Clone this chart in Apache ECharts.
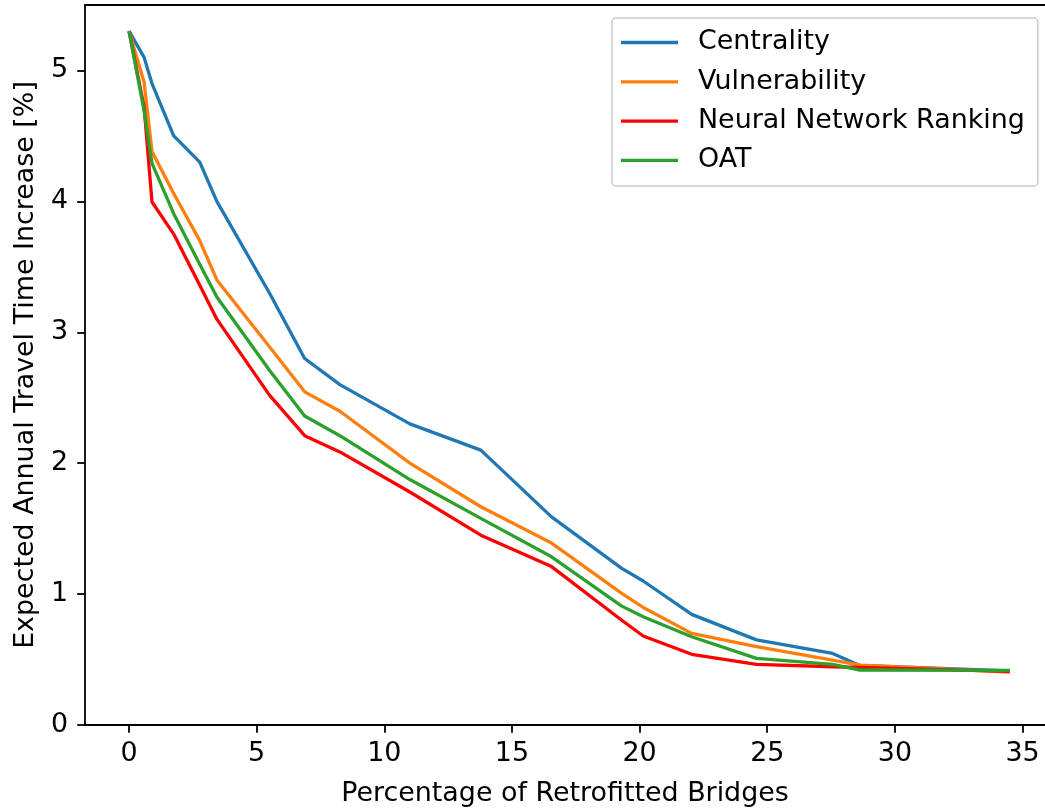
<!DOCTYPE html>
<html>
<head>
<meta charset="utf-8">
<script src="https://cdn.jsdelivr.net/npm/echarts@6/dist/echarts.min.js"></script>
<style>
html,body{margin:0;padding:0;background:#fff;}
#chart{width:1045px;height:810px;}
</style>
</head>
<body>
<div id="chart"></div>
<script>
const xs = [0, 0.59, 0.9, 1.75, 2.77, 3.44, 5.5, 6.88, 8.26, 11.0, 13.78, 16.55, 19.3, 20.14, 22.04, 24.58, 27.56, 28.63, 34.5];
const centrality    = [5.3, 5.10, 4.90, 4.50, 4.30, 4.00, 3.30, 2.80, 2.60, 2.30, 2.10, 1.59, 1.196, 1.10, 0.845, 0.65, 0.547, 0.455, 0.414];
const vulnerability = [5.3, 4.91, 4.38, 4.06, 3.70, 3.40, 2.89, 2.545, 2.397, 2.00, 1.667, 1.39, 1.005, 0.898, 0.70, 0.598, 0.496, 0.457, 0.405];
const neuralNet     = [5.3, 4.72, 3.995, 3.75, 3.36, 3.10, 2.52, 2.21, 2.086, 1.78, 1.45, 1.21, 0.80, 0.68, 0.54, 0.463, 0.445, 0.44, 0.41];
const oat           = [5.3, 4.69, 4.29, 3.906, 3.52, 3.27, 2.71, 2.36, 2.21, 1.875, 1.578, 1.285, 0.908, 0.827, 0.674, 0.509, 0.463, 0.42, 0.418];
const seriesNames = ['Centrality', 'Vulnerability', 'Neural Network Ranking', 'OAT'];
const seriesColors = ['#1f77b4', '#ff7f0e', '#ff0000', '#2ca02c'];
const xTicks = [0, 5, 10, 15, 20, 25, 30, 35];
const yTicks = [0, 1, 2, 3, 4, 5];

const allValues = [centrality, vulnerability, neuralNet, oat];
const FONT = 'DejaVu Sans';
const FS = 26.9;

const chart = echarts.init(document.getElementById('chart'), null, {renderer: 'canvas'});
chart.setOption({
  animation: false,
  backgroundColor: '#fff',
  grid: {
    left: 85, top: 5, bottom: 85, right: 0,
    show: false, containLabel: false, outerBoundsMode: 'none'
  },
  legend: {
    orient: 'vertical',
    left: 612, top: 18,
    padding: [11, 13, 12, 9],
    itemWidth: 57, itemHeight: 3.3,
    itemGap: 12.3,
    icon: 'rect',
    backgroundColor: 'rgba(255,255,255,0.8)',
    borderColor: '#cccccc', borderWidth: 1.5, borderRadius: 4,
    textStyle: {fontFamily: FONT, fontSize: FS, color: '#000', lineHeight: 27, padding: [0, 0, 0, 15]},
    data: seriesNames
  },
  xAxis: [{
    type: 'value',
    min: -1.725, max: 35.88,
    splitLine: {show: false},
    axisLine: {show: true, onZero: false, lineStyle: {color: '#000', width: 1.8}},
    axisTick: {show: true, length: 7.8, lineStyle: {color: '#000', width: 1.8}, customValues: xTicks},
    axisLabel: {fontFamily: FONT, fontSize: FS, color: '#000', margin: 16, customValues: xTicks},
    name: 'Percentage of Retrofitted Bridges',
    nameLocation: 'middle', nameGap: 56,
    nameTextStyle: {fontFamily: FONT, fontSize: FS, color: '#000'}
  }, {
    type: 'value',
    position: 'top',
    min: -1.725, max: 35.88,
    splitLine: {show: false},
    axisLine: {show: true, onZero: false, lineStyle: {color: '#000', width: 1.8}},
    axisTick: {show: false},
    axisLabel: {show: false}
  }],
  yAxis: {
    type: 'value',
    min: 0, max: 5.5,
    splitLine: {show: false},
    axisLine: {show: true, onZero: false, lineStyle: {color: '#000', width: 1.8}},
    axisTick: {show: true, length: 7.8, lineStyle: {color: '#000', width: 1.8}, customValues: yTicks},
    axisLabel: {fontFamily: FONT, fontSize: FS, color: '#000', margin: 17, customValues: yTicks},
    name: 'Expected Annual Travel Time Increase [%]',
    nameLocation: 'middle', nameGap: 42,
    nameTextStyle: {fontFamily: FONT, fontSize: FS, color: '#000'}
  },
  series: seriesNames.map((name, i) => ({
    name: name,
    type: 'line',
    xAxisIndex: 0,
    data: xs.map((x, j) => [x, allValues[i][j]]),
    showSymbol: false,
    symbol: 'none',
    color: seriesColors[i],
    lineStyle: {color: seriesColors[i], width: 3.3, join: 'round'},
    itemStyle: {color: seriesColors[i]},
    emphasis: {disabled: true}
  }))
});
</script>
</body>
</html>
